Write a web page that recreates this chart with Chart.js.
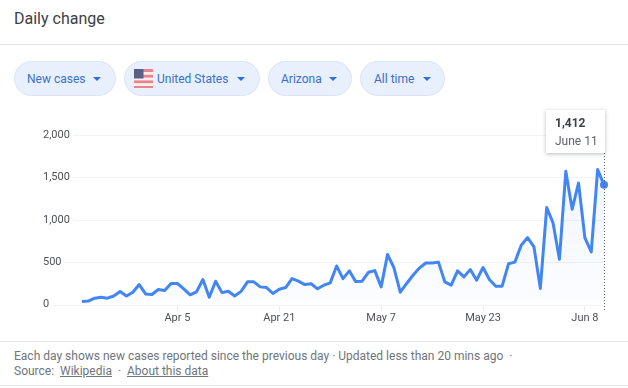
<!DOCTYPE html>
<html>
<head>
<meta charset="utf-8">
<script src="https://cdn.jsdelivr.net/npm/chart.js@4"></script>
<style>
html, body { margin: 0; padding: 0; background: #fff; }
body { width: 628px; height: 388px; position: relative; overflow: hidden; font-family: Roboto, sans-serif; }
.title { position: absolute; left: 14px; top: 9px; font-size: 16px; line-height: 20px; color: #3c4043; }
.rule { position: absolute; left: 0; width: 628px; height: 1px; background: #e3e5e8; }
.chip { position: absolute; top: 61px; height: 35px; box-sizing: border-box; border: 1px solid #dbe5f5; border-radius: 18px; background: #e8f0fe; color: #3b6fc9; font-size: 12px; line-height: 34px; white-space: nowrap; }
.chip span { position: absolute; top: 0; }
.chip i { position: absolute; top: 15px; width: 0; height: 0; border-left: 4px solid transparent; border-right: 4px solid transparent; border-top: 4px solid #2f6fd6; }
.chip svg { position: absolute; left: 9px; top: 7px; }
#wrap { position: absolute; left: 0; top: 105px; width: 628px; height: 232px; }
#tip { position: absolute; display: none; box-sizing: border-box; width: 59px; height: 43px; padding-left: 9px; background: #fff; box-shadow: 0 1px 4px rgba(60,64,67,.35); font-size: 12px; text-align: left; color: #5f6368; }
#tip b { display: block; margin-top: 5px; line-height: 16px; color: #3c4043; font-weight: 700; }
#tip div { line-height: 20px; }
.foot { position: absolute; left: 14px; top: 349px; font-size: 12px; line-height: 15px; color: #70757a; white-space: pre; }
.foot u { color: #70757a; }
</style>
</head>
<body>
<div class="title">Daily change</div>
<div class="rule" style="top:44px"></div>

<div class="chip" style="left:14px;width:102px"><span style="left:12px">New cases</span><i style="left:78px"></i></div>
<div class="chip" style="left:124px;width:136px">
  <svg width="19" height="19" viewBox="0 0 19 19">
    <rect width="19" height="19" fill="#e8858c"/>
    <rect y="3" width="19" height="2.8" fill="#fbeeee"/>
    <rect y="8.6" width="19" height="2.8" fill="#fbeeee"/>
    <rect y="14.2" width="19" height="2.8" fill="#fbeeee"/>
    <rect width="9.5" height="9.5" fill="#5a5f86"/>
  </svg>
  <span style="left:32px">United States</span><i style="left:112px"></i></div>
<div class="chip" style="left:268px;width:84px"><span style="left:12px">Arizona</span><i style="left:60px"></i></div>
<div class="chip" style="left:360px;width:85px"><span style="left:13px">All time</span><i style="left:62px"></i></div>

<div id="wrap"><canvas id="myChart"></canvas><div id="tip"></div></div>

<div class="rule" style="top:341px"></div>
<div class="foot">Each day shows new cases reported since the previous day · Updated less than 20 mins ago  ·
Source:  <u>Wikipedia</u>  ·  <u>About this data</u></div>
<div class="rule" style="top:385px"></div>

<script>
const dates = [
    "Mar 21","Mar 22","Mar 23","Mar 24","Mar 25","Mar 26","Mar 27","Mar 28","Mar 29","Mar 30","Mar 31",
    "Apr 1","Apr 2","Apr 3","Apr 4","Apr 5","Apr 6","Apr 7","Apr 8","Apr 9","Apr 10","Apr 11","Apr 12","Apr 13","Apr 14","Apr 15",
    "Apr 16","Apr 17","Apr 18","Apr 19","Apr 20","Apr 21","Apr 22","Apr 23","Apr 24","Apr 25","Apr 26","Apr 27","Apr 28","Apr 29","Apr 30",
    "May 1","May 2","May 3","May 4","May 5","May 6","May 7","May 8","May 9","May 10","May 11","May 12","May 13","May 14","May 15",
    "May 16","May 17","May 18","May 19","May 20","May 21","May 22","May 23","May 24","May 25","May 26","May 27","May 28","May 29","May 30","May 31",
    "Jun 1","Jun 2","Jun 3","Jun 4","Jun 5","Jun 6","Jun 7","Jun 8","Jun 9","Jun 10","June 11"
]
const newCases = [
    35,40,75,86,75,100,153,100,145,235,125,
    118,177,165,248,248,185,114,150,295,85,275,140,157,100,
    155,267,267,208,200,130,180,200,305,275,235,245,185,228,255,
    455,305,397,270,275,380,400,208,590,435,145,248,345,430,490,
    490,500,267,228,397,326,412,287,436,295,216,216,480,500,700,790,
    680,190,1144,963,535,1572,1124,1434,786,621,1592,1412
]
const xTickDates = ["Apr 5", "Apr 21", "May 7", "May 23", "Jun 8"]
const yTicks = [0, 500, 1000, 1500, 2000]

const lastIndex = newCases.length - 1
const blue = "#4285f4"
const axisFont = { family: "Roboto", size: 11 }

// gridlines start just after each label, so they are drawn here and not by the scale
const labelGrid = {
    id: "labelGrid",
    beforeDatasetsDraw(chart) {
        const { ctx, scales, chartArea } = chart
        ctx.save()
        ctx.font = "11px Roboto"
        ctx.strokeStyle = "#f1f3f4"
        ctx.lineWidth = 1
        yTicks.forEach((v) => {
            const y = Math.round(scales.y.getPixelForValue(v)) + 0.5
            const w = ctx.measureText(v.toLocaleString("en-US")).width
            ctx.beginPath()
            ctx.moveTo(scales.y.left + w + 4, y)
            ctx.lineTo(chartArea.right, y)
            ctx.stroke()
        })
        ctx.restore()
    }
}

// dotted line under the tooltip
const hoverLine = {
    id: "hoverLine",
    afterDatasetsDraw(chart) {
        const pt = chart.getDatasetMeta(0).data[lastIndex]
        const { ctx, scales } = chart
        ctx.save()
        ctx.strokeStyle = "#5f6368"
        ctx.lineWidth = 1
        ctx.setLineDash([1, 2])
        ctx.beginPath()
        ctx.moveTo(Math.round(pt.x) + 0.5, 48)
        ctx.lineTo(Math.round(pt.x) + 0.5, scales.y.bottom + 6)
        ctx.stroke()
        ctx.restore()
    }
}

function externalTip(context) {
    const tip = document.getElementById("tip")
    const pt = context.chart.getDatasetMeta(0).data[lastIndex]
    tip.innerHTML = "<b>" + newCases[lastIndex].toLocaleString("en-US") + "</b><div>" + dates[lastIndex] + "</div>"
    tip.style.display = "block"
    tip.style.left = (pt.x - 58) + "px"
    tip.style.top = "5px"
}

const ctx = document.getElementById("myChart")
const myChart = new Chart(ctx, {
    type: "line",
    plugins: [labelGrid, hoverLine],
    data: {
        datasets: [{
            data: newCases.map((v, i) => ({ x: i, y: v })),
            borderColor: blue,
            borderWidth: 3,
            borderJoinStyle: "round",
            tension: 0,
            clip: false,
            pointRadius: (c) => c.dataIndex === lastIndex ? 4 : 0,
            pointBackgroundColor: blue,
            pointBorderWidth: 0,
            fill: "origin",
            backgroundColor: (c) => {
                const area = c.chart.chartArea
                if (!area) return "transparent"
                const g = c.chart.ctx.createLinearGradient(0, area.top, 0, area.bottom)
                g.addColorStop(0, "rgba(66,133,244,0.09)")
                g.addColorStop(1, "rgba(66,133,244,0.02)")
                return g
            }
        }]
    },
    options: {
        responsive: true,
        maintainAspectRatio: false,
        animation: false,
        events: [],
        layout: { padding: { top: 30, right: 24, bottom: 0, left: 43 } },
        plugins: {
            legend: { display: false },
            tooltip: { enabled: false, external: externalTip }
        },
        scales: {
            x: {
                type: "linear",
                min: -1.4,
                max: lastIndex,
                afterBuildTicks(axis) {
                    axis.ticks = xTickDates.map((d) => ({ value: dates.indexOf(d) }))
                },
                afterFit(axis) { axis.height = 32.5 },
                ticks: {
                    autoSkip: false,
                    maxRotation: 0,
                    padding: 0,
                    color: "#4d5156",
                    font: axisFont,
                    callback: (v) => dates[v]
                },
                border: { display: false },
                grid: {
                    drawOnChartArea: false,
                    drawTicks: true,
                    tickLength: 7,
                    color: "#e8eaed"
                }
            },
            y: {
                min: 0,
                max: 2000,
                afterBuildTicks(axis) {
                    axis.ticks = yTicks.map((v) => ({ value: v }))
                },
                afterFit(axis) { axis.width = 30 },
                ticks: {
                    crossAlign: "far",
                    padding: 4,
                    color: "#4d5156",
                    font: axisFont,
                    callback: (v) => v.toLocaleString("en-US")
                },
                border: { display: false },
                grid: { display: false }
            }
        }
    }
})
myChart.tooltip.setActiveElements([{ datasetIndex: 0, index: lastIndex }], { x: 0, y: 0 })
myChart.update()
</script>
</body>
</html>
